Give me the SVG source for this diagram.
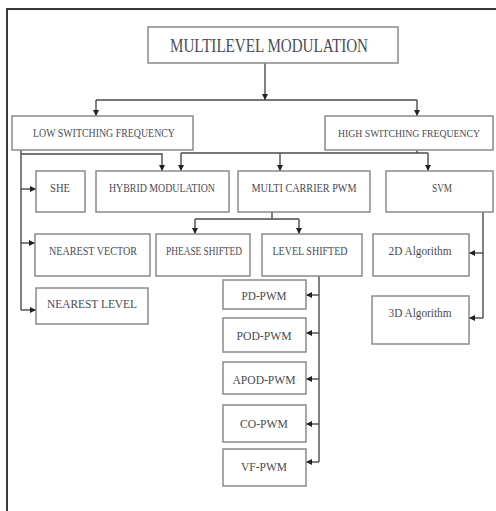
<svg xmlns="http://www.w3.org/2000/svg" width="496" height="511" viewBox="0 0 496 511">
<style>
.bx{fill:#fff;stroke:#8a8a8a;stroke-width:1.5}
.t{font-family:"Liberation Serif",serif;font-size:12.5px;fill:#4a4a58;text-anchor:middle}
.c{fill:none;stroke:#4a4a4a;stroke-width:1.4}
.a{fill:none;stroke:#4a4a4a;stroke-width:1.4;marker-end:url(#ah)}
</style>
<defs>
<marker id="ah" viewBox="0 0 6 6" refX="6" refY="3" markerWidth="6" markerHeight="6" markerUnits="userSpaceOnUse" orient="auto">
<path d="M0,0 L6,3 L0,6 z" fill="#222"/>
</marker>
</defs>
<rect width="496" height="511" fill="#fff"/>
<path d="M7,511 V9 H496" fill="none" stroke="#3a3a3a" stroke-width="2"/>
<g id="connectors">
<path class="a" d="M265,63 V100"/>
<path class="c" d="M96,100 H417"/>
<path class="a" d="M96,100 V116"/>
<path class="a" d="M417,100 V116"/>
<path class="c" d="M21,150 V310"/>
<path class="a" d="M21,154 H162 V171"/>
<path class="a" d="M21,189 H36"/>
<path class="a" d="M21,243 H35"/>
<path class="a" d="M21,310 H36"/>
<path class="c" d="M417,150 V153"/>
<path class="c" d="M181,153 H428"/>
<path class="a" d="M181,153 V171"/>
<path class="a" d="M280,153 V171"/>
<path class="a" d="M428,153 V171"/>
<path class="c" d="M272,212 V219"/>
<path class="c" d="M195,219 H299"/>
<path class="a" d="M195,219 V234"/>
<path class="a" d="M299,219 V234"/>
<path class="c" d="M483,212 V318"/>
<path class="a" d="M483,253 H469"/>
<path class="a" d="M483,318 H469"/>
<path class="c" d="M319,276 V462"/>
<path class="a" d="M319,295 H306"/>
<path class="a" d="M319,333 H306"/>
<path class="a" d="M319,379 H306"/>
<path class="a" d="M319,424 H306"/>
<path class="a" d="M319,462 H306"/>
</g>
<g id="n-title"><rect class="bx" x="148" y="27" width="250" height="36"/><text class="t" x="269" y="52" style="font-size:19px" textLength="198" lengthAdjust="spacingAndGlyphs">MULTILEVEL MODULATION</text></g>
<g id="n-low"><rect class="bx" x="12" y="116" width="181" height="34"/><text class="t" x="104" y="137" style="font-size:12px" textLength="142" lengthAdjust="spacingAndGlyphs">LOW SWITCHING FREQUENCY</text></g>
<g id="n-high"><rect class="bx" x="325" y="116" width="168" height="34"/><text class="t" x="409" y="137" style="font-size:10px" textLength="142" lengthAdjust="spacingAndGlyphs">HIGH SWITCHING FREQUENCY</text></g>
<g id="n-she"><rect class="bx" x="36" y="171" width="49" height="41"/><text class="t" x="60" y="192" textLength="20" lengthAdjust="spacingAndGlyphs">SHE</text></g>
<g id="n-hybrid"><rect class="bx" x="96" y="171" width="133" height="41"/><text class="t" x="162" y="192" textLength="106" lengthAdjust="spacingAndGlyphs">HYBRID MODULATION</text></g>
<g id="n-mcp"><rect class="bx" x="238" y="171" width="132" height="41"/><text class="t" x="304" y="192" textLength="105" lengthAdjust="spacingAndGlyphs">MULTI CARRIER PWM</text></g>
<g id="n-svm"><rect class="bx" x="386" y="171" width="107" height="41"/><text class="t" x="442" y="192" textLength="20" lengthAdjust="spacingAndGlyphs">SVM</text></g>
<g id="n-nv"><rect class="bx" x="35" y="234" width="115" height="42"/><text class="t" x="93" y="255" textLength="88" lengthAdjust="spacingAndGlyphs">NEAREST VECTOR</text></g>
<g id="n-ps"><rect class="bx" x="156" y="234" width="94" height="42"/><text class="t" x="204" y="255" textLength="76" lengthAdjust="spacingAndGlyphs">PHEASE SHIFTED</text></g>
<g id="n-ls"><rect class="bx" x="262" y="234" width="100" height="42"/><text class="t" x="310" y="255" textLength="75" lengthAdjust="spacingAndGlyphs">LEVEL SHIFTED</text></g>
<g id="n-2d"><rect class="bx" x="373" y="234" width="96" height="42"/><text class="t" x="420" y="255" textLength="63" lengthAdjust="spacingAndGlyphs">2D Algorithm</text></g>
<g id="n-3d"><rect class="bx" x="372" y="296" width="97" height="48"/><text class="t" x="420" y="317" textLength="63" lengthAdjust="spacingAndGlyphs">3D Algorithm</text></g>
<g id="n-nl"><rect class="bx" x="36" y="288" width="112" height="36"/><text class="t" x="92" y="308" textLength="90" lengthAdjust="spacingAndGlyphs">NEAREST LEVEL</text></g>
<g id="n-pd"><rect class="bx" x="223" y="280" width="83" height="29"/><text class="t" x="264" y="300" textLength="45" lengthAdjust="spacingAndGlyphs">PD-PWM</text></g>
<g id="n-pod"><rect class="bx" x="223" y="318" width="83" height="34"/><text class="t" x="264" y="340" textLength="55" lengthAdjust="spacingAndGlyphs">POD-PWM</text></g>
<g id="n-apod"><rect class="bx" x="223" y="362" width="83" height="32"/><text class="t" x="264" y="384" textLength="63" lengthAdjust="spacingAndGlyphs">APOD-PWM</text></g>
<g id="n-co"><rect class="bx" x="223" y="405" width="83" height="37"/><text class="t" x="264" y="428" textLength="48" lengthAdjust="spacingAndGlyphs">CO-PWM</text></g>
<g id="n-vf"><rect class="bx" x="223" y="449" width="83" height="37"/><text class="t" x="264" y="471" textLength="46" lengthAdjust="spacingAndGlyphs">VF-PWM</text></g>
</svg>
